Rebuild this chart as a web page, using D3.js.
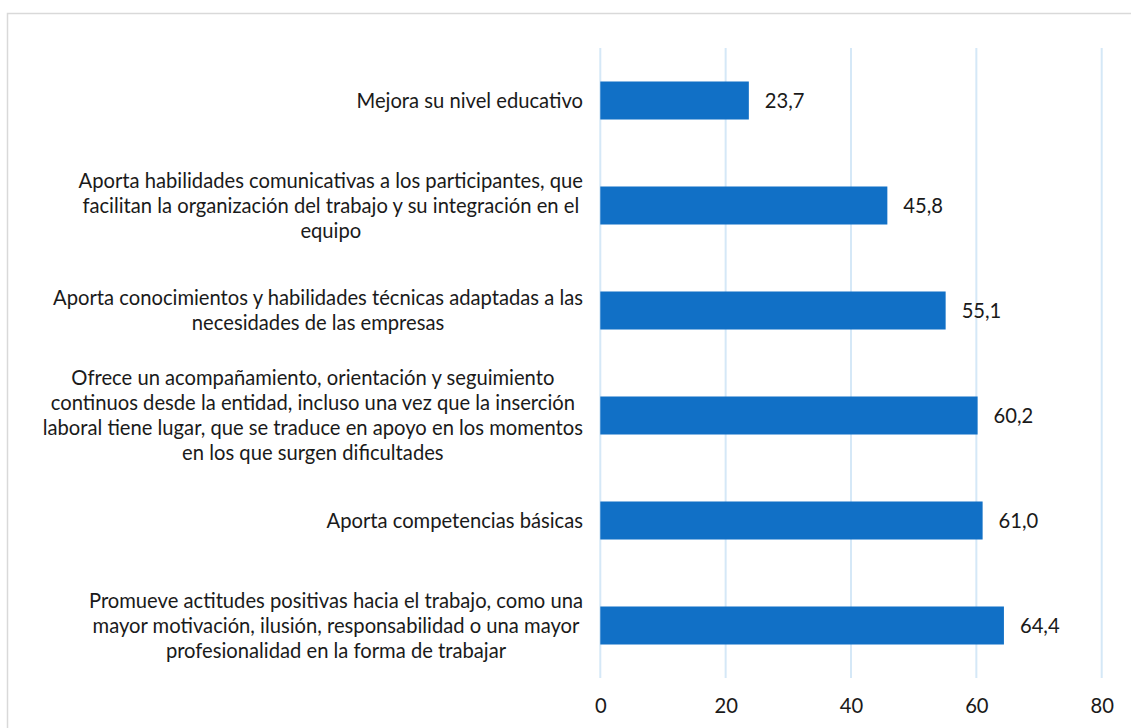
<!DOCTYPE html>
<html>
<head>
<meta charset="utf-8">
<script src="https://cdn.jsdelivr.net/npm/d3@7"></script>
<style>
  body { margin: 0; background: #fff; }
  text { font-family: Lato, "Open Sans", sans-serif; fill: #1a1a1a; }
</style>
</head>
<body>
<script>
const w = 1131;
const h = 728;

// data
const categories = [
  ["Mejora su nivel educativo"],
  ["Aporta habilidades comunicativas a los participantes, que",
   "facilitan la organización del trabajo y su integración en el",
   "equipo"],
  ["Aporta conocimientos y habilidades técnicas adaptadas a las",
   "necesidades de las empresas"],
  ["Ofrece un acompañamiento, orientación y seguimiento",
   "continuos desde la entidad, incluso una vez que la inserción",
   "laboral tiene lugar, que se traduce en apoyo en los momentos",
   "en los que surgen dificultades"],
  ["Aporta competencias básicas"],
  ["Promueve actitudes positivas hacia el trabajo, como una",
   "mayor motivación, ilusión, responsabilidad o una mayor",
   "profesionalidad en la forma de trabajar"]
];
const values = [23.7, 45.8, 55.1, 60.2, 61.0, 64.4];
const ticks = [0, 20, 40, 60, 80];

const fontSize = 20.2;

let svg = d3.select("body")
            .append("svg")
            .attr("width", w)
            .attr("height", h);

// outer frame
svg.append("rect")
   .attr("x", 7.5).attr("y", 13.5)
   .attr("width", w + 20).attr("height", h + 20)
   .attr("fill", "none")
   .attr("stroke", "#d9d9d9")
   .attr("stroke-width", 1.5);

let x = d3.scaleLinear()
          .domain([0, 80])
          .range([600.3, 1101.7]);

let y = d3.scaleBand()
          .domain(d3.range(values.length))
          .range([48, 678])
          .paddingInner(0.638)
          .paddingOuter(0.319);

// gridlines
svg.selectAll("line.grid")
   .data(ticks)
   .enter()
   .append("line")
   .attr("class", "grid")
   .attr("x1", d => x(d)).attr("x2", d => x(d))
   .attr("y1", 48).attr("y2", 678)
   .attr("stroke", "#d5e8f7")
   .attr("stroke-width", 2);

// x axis labels
let xAxis = d3.axisBottom(x)
              .tickValues(ticks)
              .tickSize(0)
              .tickPadding(0)
              .tickFormat(d3.format("d"));

let gx = svg.append("g")
            .attr("transform", "translate(0,706)")
            .call(xAxis);
gx.select(".domain").remove();
gx.selectAll("text")
  .attr("font-size", fontSize)
  .attr("font-family", "Lato, sans-serif")
  .attr("fill", "#1a1a1a")
  .attr("dy", "0.35em");

// bars
svg.selectAll("rect.bar")
   .data(values)
   .enter()
   .append("rect")
   .attr("class", "bar")
   .attr("x", x(0))
   .attr("y", (d, i) => y(i))
   .attr("width", d => x(d) - x(0))
   .attr("height", y.bandwidth())
   .attr("fill", "#1170c6");

// value labels
svg.selectAll("text.val")
   .data(values)
   .enter()
   .append("text")
   .attr("class", "val")
   .attr("x", d => x(d) + 16)
   .attr("y", (d, i) => y(i) + y.bandwidth() / 2)
   .attr("dy", "0.35em")
   .attr("font-size", fontSize)
   .text(d => d.toFixed(1).replace(".", ","));

// category labels: centred lines, block right-aligned at 583
const lineH = 25;
categories.forEach((lines, i) => {
  let cy = y(i) + y.bandwidth() / 2;
  let g = svg.append("g");
  let tx = g.selectAll("text")
            .data(lines)
            .enter()
            .append("text")
            .attr("font-size", fontSize)
            .attr("text-anchor", "middle")
            .attr("y", (d, j) => cy + (j - (lines.length - 1) / 2) * lineH)
            .attr("dy", "0.35em")
            .text(d => d);
  let maxW = d3.max(tx.nodes(), n => n.getComputedTextLength());
  tx.attr("x", 583 - maxW / 2);
});
</script>
</body>
</html>
